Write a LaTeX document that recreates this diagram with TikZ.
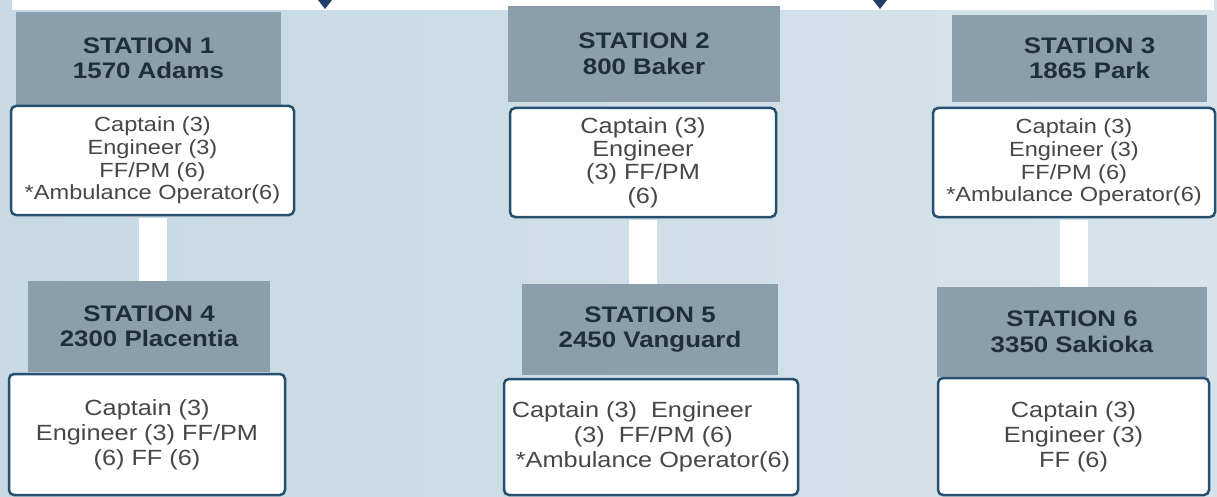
\documentclass[tikz,border=0pt]{standalone}
\usepackage{fontspec}
\setmainfont{Liberation Sans}
\newfontfamily\widefont[FakeStretch=1.15]{Liberation Sans}

\definecolor{bgleft}{HTML}{C7D9E3}
\definecolor{bgright}{HTML}{D6E3EA}
\definecolor{headgrey}{HTML}{8B9EAC}
\definecolor{headtext}{HTML}{1F2E3C}
\definecolor{frame}{HTML}{25506F}
\definecolor{crewtext}{HTML}{474747}
\definecolor{navy}{HTML}{1F3F6A}

\tikzset{
	headbox/.style={fill=headgrey, text=headtext, inner sep=0pt, align=center,
		font=\widefont\bfseries\fontsize{22.5}{25.5}\selectfont},
	crewbox/.style={draw=frame, line width=2.5pt, fill=white, rounded corners=5pt,
		inner sep=0pt, align=center, text=crewtext,
		font=\widefont\fontsize{20.5}{22.7}\selectfont},
	bigcrew/.style={font=\widefont\fontsize{22}{25}\selectfont},
	link/.style={white, line width=28pt, shorten <=1.3pt},
}

\begin{document}
\begin{tikzpicture}[x=1pt, y=-1pt]
		\useasboundingbox (0,0) rectangle (1217,497);
		\shade[left color=bgleft, right color=bgright] (0,0) rectangle (1217,497);
		
		% top band with arrow tips
		\fill[white] (12,0) rectangle (1214,10);
		\fill[navy] (318,0) -- (332,0) -- (325,9) -- cycle;
		\fill[navy] (873,0) -- (887,0) -- (880,9) -- cycle;
		
		% upper row
		\node[headbox, minimum width=265pt, minimum height=93pt] (h1) at (148.5,58.5) {STATION 1\\1570 Adams};
		\node[headbox, minimum width=272pt, minimum height=96pt] (h2) at (644,54) {STATION 2\\800 Baker};
		\node[headbox, minimum width=255pt, minimum height=87pt] (h3) at (1079.5,58.5) {\hspace*{20pt}STATION 3\\\hspace*{20pt}1865 Park};
		
		\node[crewbox, minimum width=283pt, minimum height=109pt] (b1) at (152.5,160.5) {Captain (3)\\Engineer (3)\\FF/PM (6)\\*Ambulance Operator(6)};
		\node[crewbox, font=\widefont\fontsize{22}{23.3}\selectfont, minimum width=266pt, minimum height=109pt] (b2) at (643,162.5) {Captain (3)\\Engineer\\(3) FF/PM\\(6)};
		\node[crewbox, minimum width=282pt, minimum height=109pt] (b3) at (1074,162.5) {Captain (3)\\Engineer (3)\\FF/PM (6)\\*Ambulance Operator(6)};
		
		% lower row
		\node[headbox, minimum width=242pt, minimum height=91pt] (h4) at (149,326.5) {STATION 4\\2300 Placentia};
		\node[headbox, minimum width=256pt, minimum height=91pt] (h5) at (650,329.5) {STATION 5\\2450 Vanguard};
		\node[headbox, minimum width=270pt, minimum height=90pt] (h6) at (1072,332) {STATION 6\\3350 Sakioka};
		
		\node[crewbox, bigcrew, minimum width=276pt, minimum height=121pt] (b4) at (147,434.5) {Captain (3)\\Engineer (3) FF/PM\\(6) FF (6)};
		\node[crewbox, bigcrew, minimum width=294pt, minimum height=116pt, align=left] (b5) at (651,437) {Captain (3)\ \ Engineer\\\hspace*{62pt}(3)\ \ FF/PM (6)\\\hspace*{4pt}*Ambulance Operator(6)};
		\node[crewbox, bigcrew, minimum width=271pt, minimum height=117pt] (b6) at (1073.5,436.5) {Captain (3)\\Engineer (3)\\FF (6)};
		
		\draw[link] (b1.south) -- (b1.south |- h4.north);
		\draw[link] (b2.south) -- (b2.south |- h5.north);
		\draw[link] (b3.south) -- (b3.south |- h6.north);
	\end{tikzpicture}
\end{document}
